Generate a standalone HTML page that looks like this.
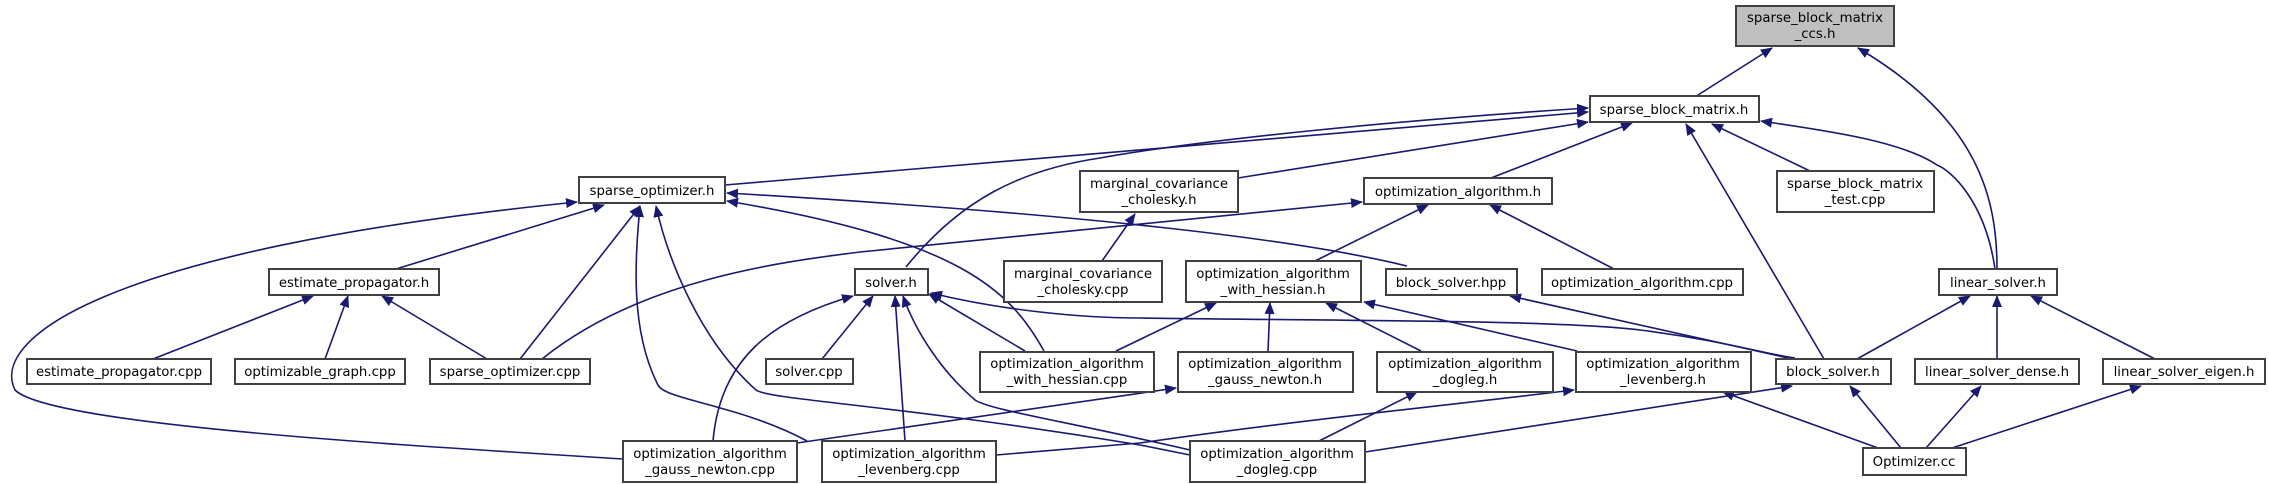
<!DOCTYPE html>
<html><head><meta charset="utf-8"><style>
html,body{margin:0;padding:0;background:#fff;}
svg{display:block;}
text{font-family:"DejaVu Sans","Liberation Sans",sans-serif;font-size:13.3px;fill:#000;text-anchor:middle;}
.e{fill:none;stroke:#191970;stroke-width:1.6;marker-end:url(#a);}
.n{fill:#fff;stroke:#404040;stroke-width:2;}
</style></head><body>
<svg width="2269" height="484" viewBox="0 0 2269 484" xmlns="http://www.w3.org/2000/svg">
<defs><marker id="a" markerWidth="12" markerHeight="10" refX="11" refY="5" orient="auto" markerUnits="userSpaceOnUse"><path d="M0,0 L12,5 L0,10 z" fill="#191970"/></marker></defs>
<!-- edges -->
<path class="e" d="M1698,95 L1772,48"/>
<path class="e" d="M1997,269 C1997,200 1980,120 1858,48"/>
<path class="e" d="M1995,269 C1985,200 1950,170 1937,165 C1900,140 1820,130 1761,121"/>
<path class="e" d="M725,185 L1588,112"/>
<path class="e" d="M906,267 C960,200 1020,170 1100,158 C1200,140 1400,120 1588,108"/>
<path class="e" d="M1238,178 L1588,122"/>
<path class="e" d="M1491,178 L1632,123"/>
<path class="e" d="M1824,359 L1686,124"/>
<path class="e" d="M1810,171 L1712,124"/>
<path class="e" d="M1102,261 L1135,214"/>
<path class="e" d="M1315,261 L1428,205"/>
<path class="e" d="M1614,269 L1490,205"/>
<path class="e" d="M542,359 C640,280 780,262 860,252 L1362,202"/>
<path class="e" d="M1407,266 C1300,240 1100,215 727,193"/>
<path class="e" d="M1044,351 C1010,290 960,240 727,201"/>
<path class="e" d="M1025,351 L929,294"/>
<path class="e" d="M1116,351 L1216,303"/>
<path class="e" d="M396,269 L604,205"/>
<path class="e" d="M520,359 L640,206"/>
<path class="e" d="M623,459 C400,445 50,425 15,390 C-10,340 100,250 577,202"/>
<path class="e" d="M807,441 C740,405 665,400 658,385 C630,330 635,260 640,206"/>
<path class="e" d="M1190,455 L1140,445 C900,405 770,400 756,390 C700,340 668,260 656,206"/>
<path class="e" d="M153,359 L313,296"/>
<path class="e" d="M325,359 L348,296"/>
<path class="e" d="M487,359 L382,296"/>
<path class="e" d="M822,359 L873,296"/>
<path class="e" d="M713,441 C720,360 770,320 853,296"/>
<path class="e" d="M905,441 L895,296"/>
<path class="e" d="M1190,450 C1060,420 990,410 975,400 C940,370 915,330 903,296"/>
<path class="e" d="M1795,358 C1770,355 1720,340 1640,330 C1560,320 1350,321 1140,318 C1080,318 1000,310 931,293"/>
<path class="e" d="M1788,358 L1510,296"/>
<path class="e" d="M1268,351 L1270,303"/>
<path class="e" d="M1421,351 L1326,303"/>
<path class="e" d="M1577,351 L1364,302"/>
<path class="e" d="M797,443 L1176,388"/>
<path class="e" d="M996,455 L1140,443 C1300,420 1450,405 1574,390"/>
<path class="e" d="M1319,441 L1417,392"/>
<path class="e" d="M1365,452 L1792,386"/>
<path class="e" d="M1878,448 L1723,392"/>
<path class="e" d="M1901,448 L1850,386"/>
<path class="e" d="M1926,448 L1981,386"/>
<path class="e" d="M1952,448 L2141,386"/>
<path class="e" d="M1857,359 L1970,296"/>
<path class="e" d="M1997,359 L1997,296"/>
<path class="e" d="M2155,359 L2031,296"/>
<!-- nodes -->
<rect x="1736" y="6" width="158" height="40" style="fill:#bfbfbf;stroke:#404040;stroke-width:2"/>
<text x="1815" y="22">sparse_block_matrix</text><text x="1815" y="38">_ccs.h</text>
<rect class="n" x="1590" y="96" width="169" height="26"/><text x="1674" y="114">sparse_block_matrix.h</text>
<rect class="n" x="579" y="177" width="146" height="26"/><text x="652" y="195">sparse_optimizer.h</text>
<rect class="n" x="1080" y="171" width="158" height="41"/><text x="1159" y="188">marginal_covariance</text><text x="1159" y="204">_cholesky.h</text>
<rect class="n" x="1364" y="178" width="188" height="26"/><text x="1458" y="196">optimization_algorithm.h</text>
<rect class="n" x="1777" y="171" width="157" height="41"/><text x="1855" y="188">sparse_block_matrix</text><text x="1855" y="204">_test.cpp</text>
<rect class="n" x="269" y="269" width="170" height="26"/><text x="354" y="287">estimate_propagator.h</text>
<rect class="n" x="855" y="269" width="73" height="26"/><text x="891" y="287">solver.h</text>
<rect class="n" x="1004" y="261" width="158" height="41"/><text x="1083" y="278">marginal_covariance</text><text x="1083" y="294">_cholesky.cpp</text>
<rect class="n" x="1186" y="261" width="175" height="41"/><text x="1273" y="278">optimization_algorithm</text><text x="1273" y="294">_with_hessian.h</text>
<rect class="n" x="1386" y="269" width="131" height="26"/><text x="1451" y="287">block_solver.hpp</text>
<rect class="n" x="1542" y="269" width="201" height="26"/><text x="1642" y="287">optimization_algorithm.cpp</text>
<rect class="n" x="1939" y="269" width="118" height="26"/><text x="1998" y="287">linear_solver.h</text>
<rect class="n" x="27" y="359" width="184" height="25"/><text x="119" y="376">estimate_propagator.cpp</text>
<rect class="n" x="235" y="359" width="170" height="25"/><text x="320" y="376">optimizable_graph.cpp</text>
<rect class="n" x="430" y="359" width="160" height="25"/><text x="510" y="376">sparse_optimizer.cpp</text>
<rect class="n" x="766" y="359" width="87" height="25"/><text x="809" y="376">solver.cpp</text>
<rect class="n" x="980" y="352" width="174" height="40"/><text x="1067" y="368">optimization_algorithm</text><text x="1067" y="384">_with_hessian.cpp</text>
<rect class="n" x="1178" y="352" width="175" height="40"/><text x="1265" y="368">optimization_algorithm</text><text x="1265" y="384">_gauss_newton.h</text>
<rect class="n" x="1377" y="352" width="176" height="40"/><text x="1465" y="368">optimization_algorithm</text><text x="1465" y="384">_dogleg.h</text>
<rect class="n" x="1576" y="352" width="175" height="40"/><text x="1663" y="368">optimization_algorithm</text><text x="1663" y="384">_levenberg.h</text>
<rect class="n" x="1776" y="359" width="115" height="25"/><text x="1833" y="376">block_solver.h</text>
<rect class="n" x="1915" y="359" width="164" height="25"/><text x="1997" y="376">linear_solver_dense.h</text>
<rect class="n" x="2103" y="359" width="162" height="25"/><text x="2184" y="376">linear_solver_eigen.h</text>
<rect class="n" x="623" y="441" width="174" height="41"/><text x="710" y="458">optimization_algorithm</text><text x="710" y="474">_gauss_newton.cpp</text>
<rect class="n" x="822" y="441" width="174" height="41"/><text x="909" y="458">optimization_algorithm</text><text x="909" y="474">_levenberg.cpp</text>
<rect class="n" x="1190" y="441" width="175" height="41"/><text x="1277" y="458">optimization_algorithm</text><text x="1277" y="474">_dogleg.cpp</text>
<rect class="n" x="1863" y="448" width="103" height="27"/><text x="1914" y="466">Optimizer.cc</text>
</svg>
</body></html>
